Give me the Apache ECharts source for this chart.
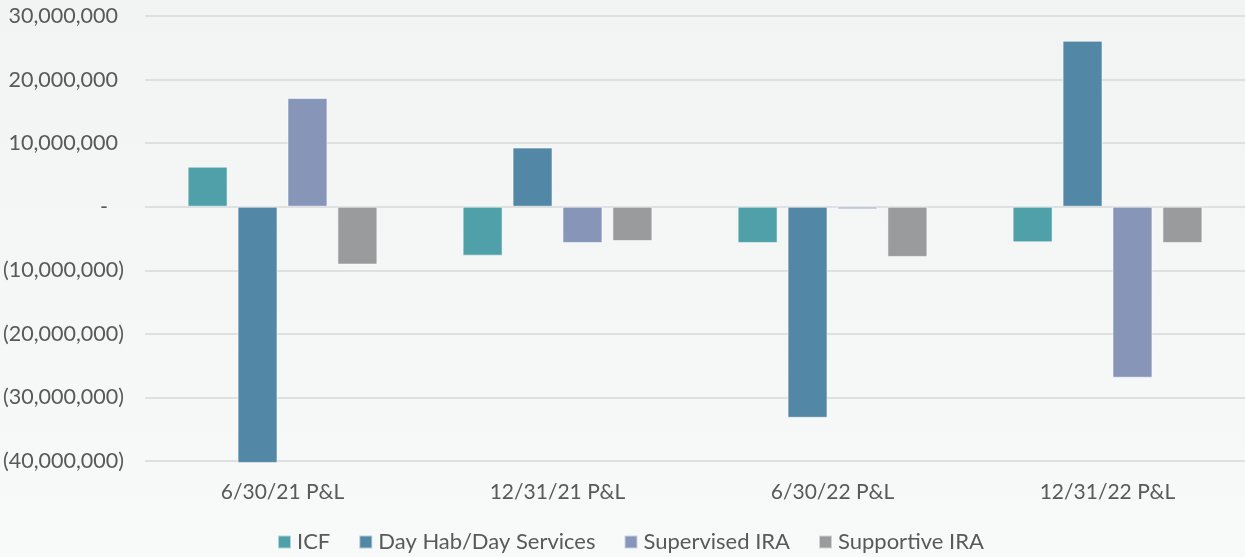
<!DOCTYPE html>
<html>
<head>
<meta charset="utf-8">
<style>
  html, body { margin: 0; padding: 0; }
  #main { width: 1245px; height: 557px; }
</style>
<script src="https://cdn.jsdelivr.net/npm/echarts@6/dist/echarts.min.js"></script>
</head>
<body>
<div id="main"></div>
<script>
// categories and series
var periods = ['6/30/21 P&L', '12/31/21 P&L', '6/30/22 P&L', '12/31/22 P&L'];
var icf = [6300000, -7700000, -5700000, -5600000];
var dayHab = [-40300000, 9300000, -33200000, 26100000];
var supervisedIra = [17100000, -5700000, -400000, -26900000];
var supportiveIra = [-9100000, -5400000, -7900000, -5700000];
var seriesNames = ['ICF', 'Day Hab/Day Services', 'Supervised IRA', 'Supportive IRA'];
var colors = ['#4FA0A8', '#5288A5', '#8795B9', '#9A9B9D'];

var fontFamily = 'Lato, "Liberation Sans", sans-serif';

// accounting style labels: 30,000,000 / (10,000,000) / -
function fmtLabel(v) {
  if (v === 0) return '{z|-}';
  var s = Math.abs(v).toLocaleString('en-US');
  if (v < 0) return '{n|(' + s + ')}';
  return '{p|' + s + '}';
}

var myChart = echarts.init(document.getElementById('main'));
var data = [icf, dayHab, supervisedIra, supportiveIra];
var series = [];
for (var i = 0; i < seriesNames.length; i++) {
  series.push({
    name: seriesNames[i],
    type: 'bar',
    data: data[i],
    clip: false,
    barGap: '25%',
    barCategoryGap: '31%',
    itemStyle: {
      color: colors[i],
      borderColor: 'rgba(255,255,255,0.55)',
      borderWidth: 1
    }
  });
}

var option = {
  backgroundColor: {
    type: 'linear', x: 0, y: 0, x2: 0, y2: 1,
    colorStops: [{offset: 0, color: '#F2F3F3'}, {offset: 1, color: '#F8F9F9'}]
  },
  animation: false,
  color: colors,
  grid: { left: 140, right: -6, top: 16, bottom: 96, containLabel: false },
  legend: {
    bottom: -1,
    left: 272,
    itemWidth: 13,
    itemHeight: 13,
    itemGap: 28,
    icon: 'rect',
    textStyle: { color: '#595959', fontSize: 22, fontFamily: fontFamily, padding: [0, 0, 0, 1] },
    data: seriesNames
  },
  xAxis: {
    type: 'category',
    data: periods,
    axisLine: { show: false, onZero: false },
    axisTick: { show: false },
    axisLabel: { color: '#595959', fontSize: 21, fontFamily: fontFamily, margin: 21 }
  },
  yAxis: {
    type: 'value',
    min: -40000000,
    max: 30000000,
    interval: 10000000,
    axisLine: { show: false },
    axisTick: { show: false },
    splitLine: { lineStyle: { color: '#D9D9D9', width: 1.5 } },
    axisLabel: {
      margin: 21,
      formatter: fmtLabel,
      rich: {
        p: { color: '#595959', fontSize: 21.5, fontFamily: fontFamily, padding: [0, 6, 0, 0] },
        n: { color: '#595959', fontSize: 21.5, fontFamily: fontFamily },
        z: { color: '#595959', fontSize: 21.5, fontFamily: fontFamily, padding: [0, 16, 0, 0] }
      }
    }
  },
  series: series
};
myChart.setOption(option);
</script>
</body>
</html>
